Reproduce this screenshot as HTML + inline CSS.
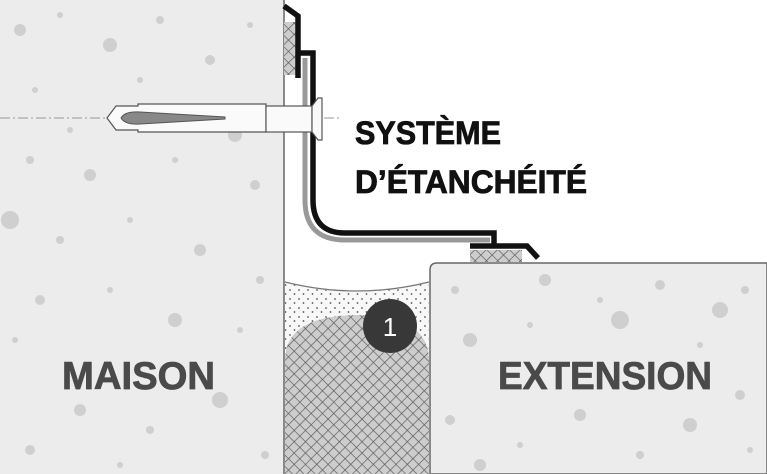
<!DOCTYPE html>
<html><head><meta charset="utf-8"><style>
html,body{margin:0;padding:0;background:#fff;}
svg{display:block;}
</style></head><body>
<svg width="767" height="474" viewBox="0 0 767 474" xmlns="http://www.w3.org/2000/svg">
<defs>
<pattern id="hatch" width="8" height="8" patternUnits="userSpaceOnUse" patternTransform="rotate(45)">
<rect width="8" height="8" fill="#cdcdcd"/>
<path d="M0 0H8M0 0V8" stroke="#555" stroke-width="1.3"/>
</pattern>
<pattern id="dots" width="9" height="9" patternUnits="userSpaceOnUse">
<rect width="9" height="9" fill="#f8f8f8"/>
<circle cx="2" cy="2" r="0.9" fill="#555"/>
<circle cx="6.5" cy="6" r="0.9" fill="#555"/>
</pattern>
<g id="spk" fill="#cfcfcf">
<circle cx="20" cy="30" r="6"/><circle cx="60" cy="15" r="3"/><circle cx="110" cy="45" r="7"/><circle cx="160" cy="20" r="4"/><circle cx="210" cy="60" r="5"/><circle cx="250" cy="25" r="3"/><circle cx="35" cy="90" r="3"/><circle cx="140" cy="80" r="3"/><circle cx="235" cy="135" r="7"/><circle cx="30" cy="160" r="4"/><circle cx="90" cy="175" r="6"/><circle cx="175" cy="160" r="3"/><circle cx="255" cy="185" r="5"/><circle cx="10" cy="220" r="9"/><circle cx="60" cy="240" r="4"/><circle cx="130" cy="220" r="3"/><circle cx="200" cy="250" r="6"/><circle cx="260" cy="280" r="4"/><circle cx="40" cy="300" r="5"/><circle cx="110" cy="290" r="3"/><circle cx="175" cy="320" r="7"/><circle cx="240" cy="330" r="3"/><circle cx="15" cy="340" r="3"/><circle cx="80" cy="410" r="6"/><circle cx="150" cy="430" r="4"/><circle cx="220" cy="400" r="8"/><circle cx="30" cy="450" r="5"/><circle cx="265" cy="455" r="4"/><circle cx="120" cy="465" r="3"/><circle cx="190" cy="120" r="4"/><circle cx="70" cy="130" r="3"/>
</g>
</defs>
<rect x="0" y="0" width="284" height="474" fill="#ececec"/>
<use href="#spk"/>
<line x1="284" y1="0" x2="284" y2="474" stroke="#666" stroke-width="1.5"/>
<path d="M430 474V270Q430 263 437 263H767V474Z" fill="#ececec" stroke="#666" stroke-width="1.5"/>
<g fill="#cfcfcf">
<circle cx="455" cy="290" r="4"/><circle cx="545" cy="280" r="6"/><circle cx="600" cy="300" r="3"/><circle cx="660" cy="285" r="5"/><circle cx="720" cy="310" r="8"/><circle cx="470" cy="340" r="7"/><circle cx="530" cy="325" r="3"/><circle cx="620" cy="320" r="9"/><circle cx="700" cy="345" r="3"/><circle cx="745" cy="290" r="4"/><circle cx="450" cy="420" r="5"/><circle cx="520" cy="445" r="3"/><circle cx="580" cy="415" r="6"/><circle cx="640" cy="455" r="4"/><circle cx="690" cy="425" r="7"/><circle cx="750" cy="450" r="3"/><circle cx="480" cy="465" r="6"/><circle cx="740" cy="395" r="5"/>
</g>
<path d="M285 282Q357 300 429 282V474H285Z" fill="url(#dots)"/>
<path d="M285 282Q357 300 429 282" fill="none" stroke="#777" stroke-width="1.2"/>
<path d="M285 474V360Q285 316 357 315Q429 316 429 360V474Z" fill="url(#hatch)"/>
<circle cx="390" cy="326" r="27" fill="#383838"/>
<text x="390" y="336" font-family="Liberation Sans, sans-serif" font-size="26" fill="#fff" text-anchor="middle">1</text>
<rect x="284" y="22" width="12" height="53" fill="url(#hatch)"/>
<rect x="470" y="250" width="52" height="12" fill="url(#hatch)"/>
<path d="M305 58V200Q305 240 345 240H490" fill="none" stroke="#999" stroke-width="5"/>
<path d="M284 6L298 16V78M298 53H313V200Q313 233 345 233H494V246M470 246H527L538 258" fill="none" stroke="#111" stroke-width="5.5" stroke-linejoin="miter"/>
<line x1="0" y1="118" x2="340" y2="118" stroke="#999" stroke-width="1" stroke-dasharray="10,3,2,3"/>
<path d="M107 118L116 106H138L138 104H266V132H138V130H116Z" fill="#fafafa" stroke="#555" stroke-width="1.2"/>
<path d="M121 118Q125 111 140 112L225 117V119L140 124Q125 125 121 118Z" fill="#888" stroke="#555" stroke-width="1"/>
<rect x="266" y="106" width="46" height="26" fill="#fafafa" stroke="#555" stroke-width="1.2"/>
<path d="M312 106L318 98H322V140H318L312 132Z" fill="#fafafa" stroke="#555" stroke-width="1.2"/>
<g font-family="Liberation Sans, sans-serif" font-weight="bold" fill="#111" stroke="#111" stroke-width="0.8">
<text x="355" y="144" font-size="32" textLength="146" lengthAdjust="spacingAndGlyphs">SYSTÈME</text>
<text x="355" y="193" font-size="32" textLength="232" lengthAdjust="spacingAndGlyphs">D’ÉTANCHÉITÉ</text>
</g>
<g font-family="Liberation Sans, sans-serif" font-weight="bold" fill="#4a4a4a" stroke="#4a4a4a" stroke-width="0.8">
<text x="62" y="389" font-size="39" textLength="153" lengthAdjust="spacingAndGlyphs">MAISON</text>
<text x="498" y="389" font-size="39" textLength="214" lengthAdjust="spacingAndGlyphs">EXTENSION</text>
</g>
</svg>
</body></html>
